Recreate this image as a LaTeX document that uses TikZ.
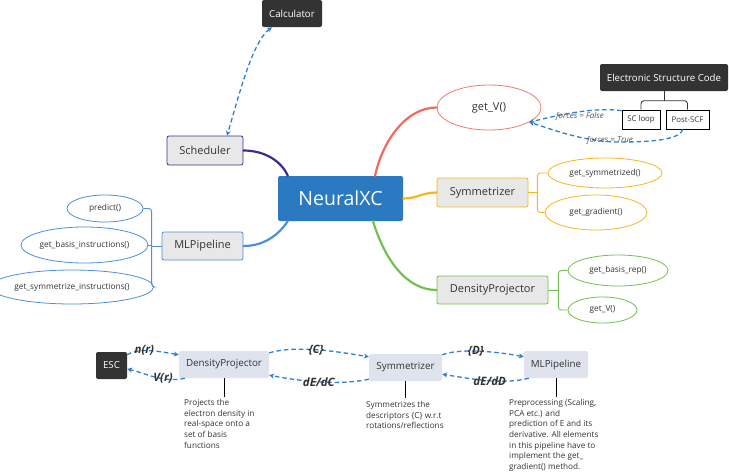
\documentclass[tikz,border=0pt]{standalone}
\usepackage{fontspec}
\setmainfont{Open Sans}
\usetikzlibrary{shapes.geometric,arrows.meta}
\definecolor{cpurple}{HTML}{3B2E8C}
\definecolor{cred}{HTML}{F4695B}
\definecolor{credl}{HTML}{F07A70}
\definecolor{corange}{HTML}{F7B51B}
\definecolor{cgreen}{HTML}{71C14F}
\definecolor{cblue}{HTML}{4A8FE0}
\definecolor{cmain}{HTML}{2A79C1}
\definecolor{cdash}{HTML}{2C7FD1}
\definecolor{cdark}{HTML}{333333}
\definecolor{cgrey}{HTML}{E8E8E8}
\definecolor{cflow}{HTML}{DFE3EE}
\definecolor{ctext}{HTML}{333333}
\definecolor{clabel}{HTML}{555555}
\tikzset{
  mapbox/.style={draw, rounded corners=2pt, fill=cgrey, line width=0.8pt, inner sep=0pt, text=ctext, font=\fontsize{11}{13}\selectfont},
  darkbox/.style={fill=cdark, rounded corners=2pt, inner sep=0pt, text=white, font=\fontsize{9.7}{11}\selectfont},
  oval/.style={ellipse, draw, line width=0.8pt, inner sep=0pt, text=ctext, font=\fontsize{8.3}{10}\selectfont},
  smallbox/.style={draw, line width=0.7pt, inner sep=0pt, fill=white, text=ctext, font=\fontsize{7.8}{9}\selectfont},
  flowbox/.style={fill=cflow, rounded corners=2pt, inner sep=0pt, text=ctext, font=\fontsize{9.8}{11}\selectfont},
  branch/.style={line width=2.2pt, line cap=round},
  brackline/.style={line width=0.9pt, rounded corners=3pt},
  dasharrow/.style={cdash, line width=1.3pt, dash pattern=on 4.5pt off 3pt, -{Stealth[length=5pt,width=5pt]}},
  flowlabel/.style={font=\bfseries\itshape\fontsize{11.5}{13}\selectfont, text=ctext, inner sep=0pt},
  forcelabel/.style={font=\itshape\fontsize{8}{9}\selectfont, text=clabel, inner sep=0pt},
  desc/.style={anchor=north west, align=left, inner sep=0pt, text=ctext, font=\fontsize{8.2}{10.7}\selectfont},
}
\begin{document}
\begin{tikzpicture}[x=1pt,y=-1pt]
\useasboundingbox (0,0) rectangle (729,472);

% ---------- mind map ----------
\node[darkbox, minimum width=60pt, minimum height=27pt] (calc) at (292,13.5) {Calculator};
\node[mapbox, draw=cpurple, minimum width=76pt, minimum height=29pt] (sched) at (205,150.5) {Scheduler};
\node[fill=cmain, rounded corners=2pt, inner sep=0pt, text=white, minimum width=125pt, minimum height=45pt, font=\fontsize{19.5}{24}\selectfont] (root) at (340.5,198.5) {NeuralXC};

\node[oval, draw=credl, minimum width=104pt, minimum height=45pt, font=\fontsize{11}{13}\selectfont] (getv) at (489,107.5) {get\_V()};

\node[darkbox, minimum width=128pt, minimum height=27pt] (escode) at (664,77.5) {Electronic Structure Code};
\node[smallbox, minimum width=38pt, minimum height=19pt] (scl) at (641,119.5) {SC loop};
\node[smallbox, minimum width=43pt, minimum height=19pt] (post) at (687.5,119.5) {Post-SCF};

\node[mapbox, draw=corange, minimum width=91pt, minimum height=29pt] (symm) at (482.5,192.5) {Symmetrizer};
\node[oval, draw=corange, minimum width=114pt, minimum height=30pt] (gsym) at (605,173) {get\_symmetrized()};
\node[oval, draw=corange, minimum width=102pt, minimum height=35pt] (ggrad) at (596,212.5) {get\_gradient()};

\node[mapbox, draw=cgreen, minimum width=111pt, minimum height=28pt] (dproj) at (492.5,290) {DensityProjector};
\node[oval, draw=cgreen, minimum width=100pt, minimum height=31pt] (gbr) at (618,270.5) {get\_basis\_rep()};
\node[oval, draw=cgreen, minimum width=69pt, minimum height=26pt] (gv2) at (602.5,310) {get\_V()};

\node[mapbox, draw=cblue, minimum width=81pt, minimum height=28pt] (mlp) at (202.5,246) {MLPipeline};
\node[oval, draw=cblue, minimum width=76pt, minimum height=27pt] (pred) at (105,208.5) {predict()};
\node[oval, draw=cblue, minimum width=117pt, minimum height=36pt] (gbi) at (84.5,245) {get\_basis\_instructions()};
\node[oval, draw=cblue, minimum width=142pt, minimum height=34pt] (gsi) at (72,287) {get\_symmetrize\_instructions()};

% branches
\draw[branch, cpurple] (sched.east) .. controls +(22,0) and +(-6,-14) .. ([xshift=10pt]root.north west);
\draw[branch, cred] ([xshift=34.5pt]root.north) .. controls +(8,-36) and +(-30,0) .. (getv.west);
\draw[branch, corange] (root.east) .. controls +(14,0) and +(-14,0) .. (symm.west);
\draw[branch, cgreen] ([xshift=32.5pt]root.south) .. controls +(12,39) and +(-30,0) .. (dproj.west);
\draw[branch, cblue] ([xshift=10pt]root.south west) .. controls +(-13,19) and +(15,0) .. (mlp.east);

% brackets
\draw[brackline, corange] (symm.east) -- ++(9,0) coordinate (bs);
\draw[brackline, corange] (gsym.west) -| (bs) |- (ggrad.west);
\draw[brackline, cgreen] (dproj.east) -- ++(10,0) coordinate (bd);
\draw[brackline, cgreen] (gbr.west) -| (bd) |- (gv2.west);
\draw[brackline, cblue] (mlp.west) -- ++(-10,0) coordinate (bm);
\draw[brackline, cblue] (pred.east) -| (bm) |- (gsi.east);
\draw[brackline, cblue] (gbi.east) -- (gbi.east -| bm);
\draw[line width=0.9pt, cdark] (escode.south) -- ++(0,9.5) coordinate (be);
\draw[line width=0.9pt, cdark, rounded corners=3pt] (scl.north) |- (be) -| (post.north);

% dashed links
\draw[dasharrow, {Stealth[length=5pt,width=5pt]}-{Stealth[length=5pt,width=5pt]}] ([xshift=-20pt]calc.south) .. controls +(-20,15) and +(12,-40) .. ([xshift=22pt]sched.north);
\draw[dasharrow] ([yshift=-1pt]scl.north west) .. controls +(-30,-4) and +(25,-6) .. (getv.-20);
\draw[dasharrow] ([xshift=-5pt]post.south) .. controls +(-2,12) and +(20,0) .. (620,142) .. controls +(-35,0) and +(25,8) .. (getv.-20);
\node[forcelabel] (lfalse) at (580,116) {forces = False};
\node[forcelabel] (ltrue) at (610,140) {forces = True};

% ---------- flow ----------
\node[darkbox, minimum width=31pt, minimum height=27pt] (esc) at (111.5,365.5) {ESC};
\node[flowbox, minimum width=90pt, minimum height=27pt] (dpb) at (224,364.5) {DensityProjector};
\node[flowbox, minimum width=73pt, minimum height=27pt] (symb) at (405.5,367.5) {Symmetrizer};
\node[flowbox, minimum width=64pt, minimum height=27pt] (mlpb) at (556,364.5) {MLPipeline};

\draw[dasharrow] ([yshift=-3pt]esc.north east) .. controls +(10,-7) and +(-22,-4) .. ([yshift=-4pt]dpb.north west) node[flowlabel, pos=0.42] (lnr) {n(r)};
\draw[dasharrow] ([xshift=6pt]dpb.south west) .. controls +(-22,5) and +(18,4) .. ([yshift=-3.5pt]esc.east) node[flowlabel, pos=0.35] (lvr) {V(r)};
\draw[dasharrow] ([yshift=-2pt]dpb.north east) .. controls +(28,-8) and +(-30,-5) .. ([yshift=-3pt]symb.north west) node[flowlabel, pos=0.48] (lc) {\{C\}};
\draw[dasharrow] ([yshift=2pt]symb.south west) .. controls +(-32,7) and +(26,5) .. ([yshift=3pt]dpb.south east) node[flowlabel, pos=0.48] (ldc) {dE/dC};
\draw[dasharrow] ([yshift=-1pt]symb.north east) .. controls +(18,-7) and +(-25,-5) .. ([yshift=-6pt]mlpb.north west) node[flowlabel, pos=0.45] (ld) {\{D\}};
\draw[dasharrow] ([xshift=5pt]mlpb.south west) .. controls +(-26,7) and +(25,4) .. ([yshift=7pt]symb.south east) node[flowlabel, pos=0.45] (ldd) {dE/dD};

\draw[line width=0.8pt, black] (dpb.south) -- ++(0,19) coordinate (dpt);
\draw[line width=0.8pt, black] (symb.south) -- ++(0,17) coordinate (syt);
\draw[line width=0.8pt, black] (mlpb.south) -- ++(0,19) coordinate (mlt);
\node[desc] (ddp) at (184,399) {Projects the\\electron density in\\real-space onto a\\set of basis\\functions};
\node[desc] (dsy) at (366,401) {Symmetrizes the\\descriptors \{C\} w.r.t\\rotations/reflections};
\node[desc] (dml) at (509,399) {Preprocessing (Scaling,\\PCA etc.) and\\prediction of E and its\\derivative. All elements\\in this pipeline have to\\implement the get\_\\gradient() method.};
\end{tikzpicture}
\end{document}
